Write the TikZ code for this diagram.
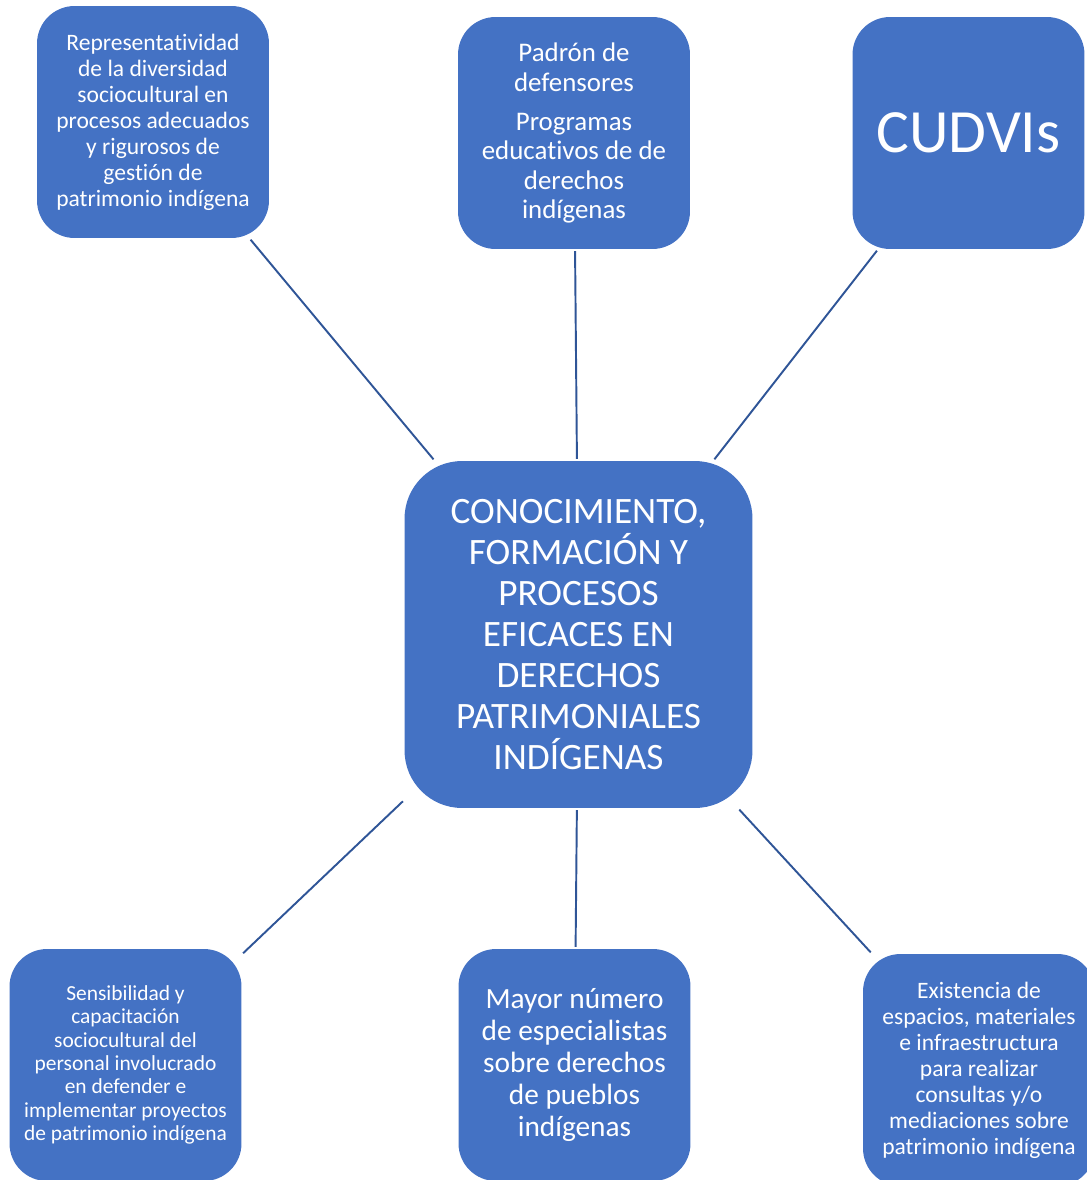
\documentclass[tikz,border=0pt]{standalone}
\usepackage{fontspec}
\setmainfont{Carlito}[Ligatures={NoCommon,NoContextual}]
\usetikzlibrary{positioning}
\definecolor{cajazul}{HTML}{4472C4}
\definecolor{lineazul}{HTML}{2F5597}

\begin{document}
\begin{tikzpicture}[
    x=0.02cm, y=-0.02cm,
    caja/.style={fill=cajazul, text=white, rounded corners=0.75cm, minimum width=4.64cm, minimum height=4.64cm, align=center, inner sep=0pt, font=\fontsize{13.4}{14.8}\selectfont},
    nucleo/.style={caja, rounded corners=1.15cm, minimum width=6.96cm, minimum height=6.94cm, font=\fontsize{21.2}{23.3}\selectfont},
    enlace/.style={draw=lineazul, line width=1.1pt, shorten <=1pt, shorten >=1pt}
]
\useasboundingbox (0,0) rectangle (1086,1180);

% nodo central
\node[nucleo] (centro) at (578.5,634.5) {CONOCIMIENTO,\\FORMACIÓN Y\\PROCESOS\\EFICACES EN\\DERECHOS\\PATRIMONIALES\\INDÍGENAS};

% fila superior
\node[caja] (diversidad) at (153,122) {Representatividad\\de la diversidad\\sociocultural en\\procesos adecuados\\y rigurosos de\\gestión de\\patrimonio indígena};
\node[caja, font=\fontsize{15.3}{16.7}\selectfont] (padron) at (574,133) {Padrón de\\defensores\\[0.2cm]Programas\\educativos de de\\derechos\\indígenas};
\node[caja, font=\fontsize{35}{42}\selectfont] (cudvis) at (968.5,133) {CUDVIs};

% fila inferior
\node[caja, font=\fontsize{12.2}{13.3}\selectfont] (sensibilidad) at (125.5,1065) {Sensibilidad y\\capacitación\\sociocultural del\\personal involucrado\\en defender e\\implementar proyectos\\de patrimonio indígena};
\node[caja, font=\fontsize{16.7}{18.1}\selectfont] (especialistas) at (574.5,1065) {Mayor número\\de especialistas\\sobre derechos\\de pueblos\\indígenas};
\node[caja] (espacios) at (979,1070) {Existencia de\\espacios, materiales\\e infraestructura\\para realizar\\consultas y/o\\mediaciones sobre\\patrimonio indígena};

\draw[enlace] (diversidad) -- (centro);
\draw[enlace] (padron) -- (centro);
\draw[enlace] (cudvis) -- (centro);
\draw[enlace] (sensibilidad) -- (centro);
\draw[enlace] (especialistas) -- (centro);
\draw[enlace] (espacios) -- (centro);
\end{tikzpicture}
\end{document}
